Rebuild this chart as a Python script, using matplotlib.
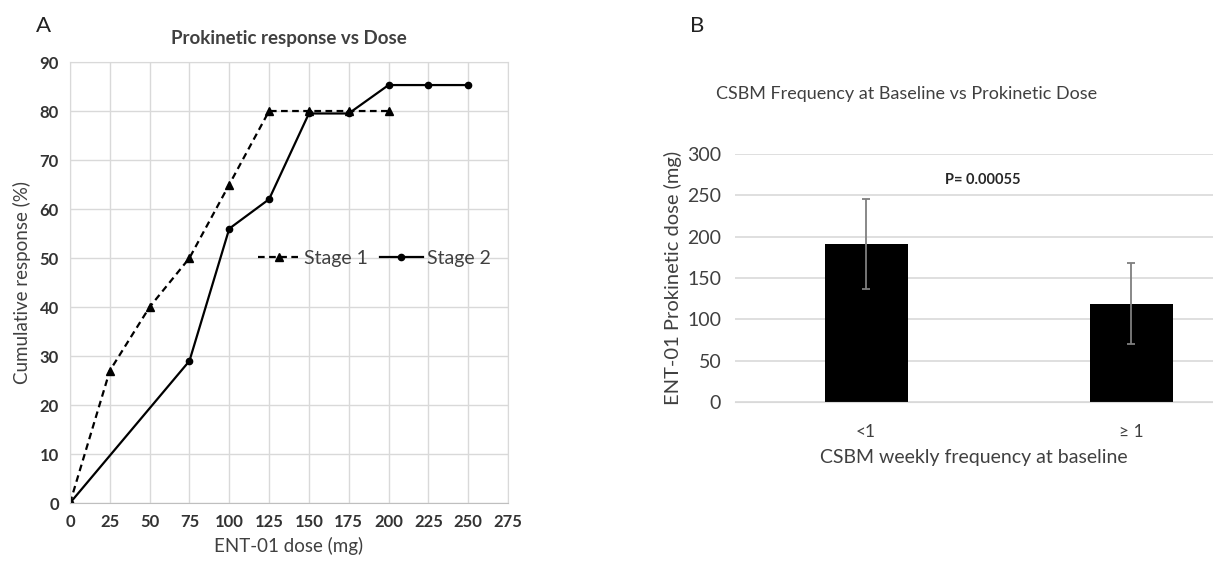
import matplotlib.pyplot as plt
import numpy as np

plt.rcParams['font.family'] = ['Lato', 'DejaVu Sans']

# panel A data
stage1_dose = [0, 25, 50, 75, 100, 125, 150, 175, 200]
stage1_resp = [0, 27, 40, 50, 65, 80, 80, 80, 80]
stage2_dose = [0, 75, 100, 125, 150, 175, 200, 225, 250]
stage2_resp = [0, 29, 56, 62, 79.5, 79.5, 85.3, 85.3, 85.3]
x_ticks_a = list(range(0, 300, 25))
y_ticks_a = list(range(0, 100, 10))

# panel B data
categories = ["<1", "≥ 1"]
mean_dose = [191, 119]
err_low = [137, 70]
err_high = [246, 168]
y_ticks_b = [0, 50, 100, 150, 200, 250, 300]

grid_col = "#d9d9d9"
txt_col = "#404040"

fig = plt.figure(figsize=(12.13, 5.68), dpi=100)

# ---- panel A
ax1 = fig.add_axes([0.0577, 0.1144, 0.3611, 0.7764])
ax1.plot(stage1_dose, stage1_resp, "k^--", markersize=6, lw=1.6, dashes=(3, 2), label="Stage 1")
ax1.plot(stage2_dose, stage2_resp, "ko-", markersize=4.5, lw=1.6, label="Stage 2")
ax1.set_xlim(0, 275)
ax1.set_ylim(0, 90)
ax1.set_xticks(x_ticks_a)
ax1.set_yticks(y_ticks_a)
ax1.grid(color=grid_col, lw=1)
ax1.set_axisbelow(True)
for s in ax1.spines.values():
    s.set_color(grid_col)
ax1.spines["bottom"].set_color("#bfbfbf")
ax1.tick_params(length=0, labelsize=12, labelcolor="#333333", pad=8)
for lab in ax1.get_xticklabels() + ax1.get_yticklabels():
    lab.set_fontweight("bold")
ax1.set_xlabel("ENT-01 dose (mg)", fontsize=13.5, color=txt_col, labelpad=5)
ax1.set_ylabel("Cumulative response (%)", fontsize=13.5, color=txt_col, labelpad=6)
ax1.set_title("Prokinetic response vs Dose", fontsize=13.5, color=txt_col, fontweight="bold", pad=13)
leg = ax1.legend(loc="center right", bbox_to_anchor=(1.0, 0.555), ncol=2, frameon=False,
                 fontsize=14, handlelength=2.2, handletextpad=0.2, columnspacing=0.6,
                 labelcolor=txt_col)
fig.text(0.030, 0.955, "A", fontsize=16, color="#222222", va="center")

# ---- panel B
ax2 = fig.add_axes([0.606, 0.2923, 0.394, 0.4366])
xpos = np.arange(len(categories))
yerr = [np.array(mean_dose) - np.array(err_low), np.array(err_high) - np.array(mean_dose)]
ax2.bar(xpos, mean_dose, width=0.313, color="black", zorder=2)
ax2.errorbar(xpos, mean_dose, yerr=yerr, fmt="none", ecolor="#7f7f7f", elinewidth=1.3,
             capsize=3, capthick=1.3, zorder=3)
ax2.set_xlim(-0.494, 1.309)
ax2.set_ylim(0, 300)
ax2.set_yticks(y_ticks_b)
ax2.set_xticks(xpos)
ax2.set_xticklabels(categories)
ax2.yaxis.grid(True, color=grid_col, lw=1.2)
ax2.set_axisbelow(True)
for s in ["top", "right", "left"]:
    ax2.spines[s].set_visible(False)
ax2.spines["bottom"].set_color(grid_col)
ax2.tick_params(axis="y", length=0, labelsize=14, labelcolor=txt_col, pad=10)
ax2.tick_params(axis="x", length=0, labelsize=12.5, labelcolor=txt_col, pad=16)
ax2.set_xlabel("CSBM weekly frequency at baseline", fontsize=14, color=txt_col, labelpad=6)
ax2.set_ylabel("ENT-01 Prokinetic dose (mg)", fontsize=14.5, color=txt_col, labelpad=4)
ax2.text(0.44, 268, "P= 0.00055", fontsize=10.5, fontweight="bold", color="#262626",
         ha="center", va="center")
fig.text(0.747, 0.834, "CSBM Frequency at Baseline vs Prokinetic Dose", fontsize=13,
         color=txt_col, ha="center", va="center")
fig.text(0.569, 0.955, "B", fontsize=16, color="#222222", va="center")

fig.savefig("out.png", dpi=100)
